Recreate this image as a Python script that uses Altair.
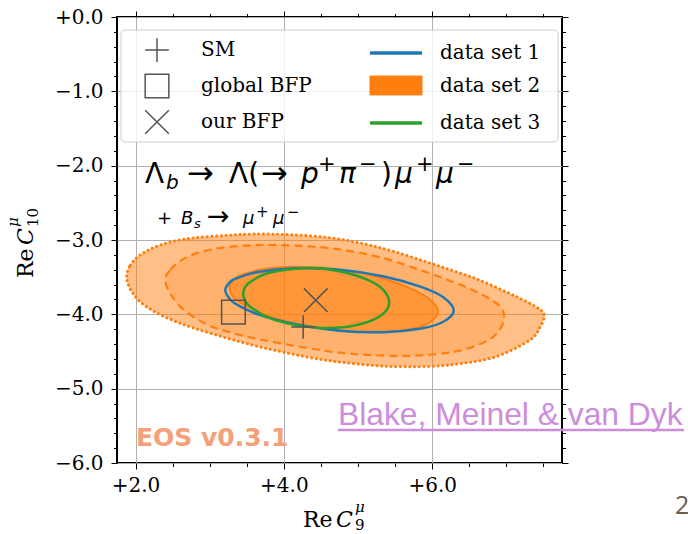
import altair as alt
import pandas as pd

# ---------------- data ----------------
# outer (dotted) contour of data set 2
outer_x = [1.88, 1.93, 2.05, 2.25, 2.50, 2.80, 3.20, 3.60, 4.10, 4.62, 5.07, 5.50, 5.97, 6.30, 6.64, 7.13, 7.40, 7.51,
           7.45, 7.31, 6.86, 6.40, 5.97, 5.40, 4.82, 4.40, 4.00, 3.60, 3.20, 2.80, 2.50, 2.25, 2.05, 1.93]
outer_y = [-3.50, -3.34, -3.21, -3.10, -3.02, -2.97, -2.94, -2.92, -2.93, -2.97, -3.05, -3.16, -3.31, -3.42, -3.54, -3.76, -3.90, -4.01,
           -4.18, -4.35, -4.57, -4.66, -4.70, -4.70, -4.65, -4.59, -4.51, -4.42, -4.31, -4.19, -4.08, -3.96, -3.82, -3.66]
# middle (dashed) contour of data set 2
dashed_x = [2.40, 2.47, 2.62, 2.85, 3.20, 3.60, 4.00, 4.62, 5.29, 5.97, 6.40, 6.72, 6.92, 6.97,
            6.90, 6.75, 6.41, 6.00, 5.52, 4.90, 4.42, 3.74, 3.30, 2.95, 2.65, 2.48]
dashed_y = [-3.54, -3.40, -3.27, -3.17, -3.10, -3.07, -3.07, -3.11, -3.23, -3.45, -3.61, -3.76, -3.90, -4.05,
            -4.22, -4.35, -4.48, -4.54, -4.56, -4.53, -4.47, -4.35, -4.25, -4.13, -3.94, -3.74]
# inner (solid) contour of data set 2
inner_x = [3.27, 3.33, 3.43, 3.73, 4.18, 4.68, 5.18, 5.63, 5.93, 6.08, 5.93, 5.63, 5.18, 4.68, 4.18, 3.73, 3.43, 3.32]
inner_y = [-3.64, -3.53, -3.47, -3.39, -3.36, -3.39, -3.47, -3.62, -3.77, -3.96, -4.13, -4.21, -4.24, -4.21, -4.13, -4.00, -3.85, -3.77]
# data set 1 contour
blue_x = [3.21, 3.27, 3.35, 3.65, 4.15, 4.75, 5.35, 5.85, 6.15, 6.29, 6.15, 5.85, 5.35, 4.75, 4.15, 3.65, 3.35, 3.26]
blue_y = [-3.67, -3.57, -3.52, -3.43, -3.38, -3.40, -3.49, -3.63, -3.77, -3.95, -4.10, -4.19, -4.24, -4.22, -4.13, -4.00, -3.86, -3.78]
# data set 3 contour
green_x = [3.45, 3.48, 3.54, 3.74, 4.04, 4.44, 4.84, 5.14, 5.34, 5.42, 5.34, 5.14, 4.84, 4.44, 4.04, 3.74, 3.54, 3.48]
green_y = [-3.72, -3.63, -3.57, -3.46, -3.40, -3.38, -3.44, -3.54, -3.67, -3.84, -3.99, -4.10, -4.17, -4.18, -4.12, -4.02, -3.89, -3.82]

# points
marker_labels = ["SM", "global BFP", "our BFP"]
marker_x = [4.26, 3.32, 4.43]
marker_y = [-4.17, -3.97, -3.81]

# legend entries (filled column by column, two columns)
legend_labels = ["SM", "global BFP", "our BFP", "data set 1", "data set 2", "data set 3"]

# ticks
x_ticks = [2.0, 2.5, 3.0, 3.5, 4.0, 4.5, 5.0, 5.5, 6.0, 6.5, 7.0, 7.5]
y_ticks = [-6.0, -5.8, -5.6, -5.4, -5.2, -5.0, -4.8, -4.6, -4.4, -4.2, -4.0,
           -3.8, -3.6, -3.4, -3.2, -3.0, -2.8, -2.6, -2.4, -2.2, -2.0,
           -1.8, -1.6, -1.4, -1.2, -1.0, -0.8, -0.6, -0.4, -0.2, 0.0]
X_DOMAIN = [1.75, 7.75]
Y_DOMAIN = [-6.0, 0.0]

# ---------------- helpers ----------------
def contour(xs, ys):
    return pd.DataFrame({"x": xs, "y": ys, "i": list(range(len(xs)))})

MAJOR_X = "abs(datum.value/2 - round(datum.value/2)) < 0.000001"
MAJOR_Y = "abs(datum.value - round(datum.value)) < 0.000001"


def label_expr(test):
    return ("(" + test + ") ? ((datum.value >= 0 ? '+' : '\u2212') + format(abs(datum.value), '.1f')) : ''")


def axis(orient, values, test, show):
    kw = dict(
        orient=orient, values=values, domain=False, title=None,
        tickColor="black", tickWidth=1,
        tickSize={"condition": {"test": test, "value": 6}, "value": 3.5},
    )
    if show:
        kw.update(
            labelExpr=label_expr(test), labelFont="DejaVu Serif", labelFontSize=20,
            labelColor="black", labelPadding=6 if orient == "bottom" else 8,
            labelOverlap=False, labelFlush=False,
            grid=True, gridColor="#b0b0b0", gridWidth=1,
            gridOpacity={"condition": {"test": test, "value": 1}, "value": 0},
        )
    else:
        kw.update(labels=False, grid=False)
    return alt.Axis(**kw)


xs = alt.Scale(domain=X_DOMAIN, nice=False, zero=False)
ys = alt.Scale(domain=Y_DOMAIN, nice=False, zero=False)


def cont_layer(xs_, ys_, first=False, **mark):
    return alt.Chart(contour(xs_, ys_)).mark_line(
        interpolate="cardinal-closed", **mark
    ).encode(
        x=alt.X("x:Q", scale=xs, axis=axis("bottom", x_ticks, MAJOR_X, True) if first else None),
        y=alt.Y("y:Q", scale=ys, axis=axis("left", y_ticks, MAJOR_Y, True) if first else None),
        order=alt.Order("i:Q"),
    )


outer = cont_layer(outer_x, outer_y, first=True, fill="#ff7f0e", fillOpacity=0.5,
                   stroke="#ff7f0e", strokeWidth=3, strokeDash=[0.1, 4.6], strokeCap="round")
dashed = cont_layer(dashed_x, dashed_y, fill="#ff7f0e", fillOpacity=0.2,
                    stroke="#ff7f0e", strokeWidth=2.2, strokeDash=[8, 5])
inner = cont_layer(inner_x, inner_y, fill="#ff7f0e", fillOpacity=0.55,
                   stroke="#ff7f0e", strokeWidth=2)
blue = cont_layer(blue_x, blue_y, stroke="#1f77b4", strokeWidth=2.5)
green = cont_layer(green_x, green_y, stroke="#2ca02c", strokeWidth=2.5)

# legend frame
frame = alt.Chart(pd.DataFrame({"k": [0]})).mark_rect(
    fill="white", fillOpacity=0.8, stroke="#cccccc", strokeWidth=1, cornerRadius=4
).encode(x=alt.value(4), x2=alt.value(441), y=alt.value(13), y2=alt.value(125))

legend = alt.Legend(
    orient="none", legendX=26, legendY=20, columns=2, columnPadding=50, rowPadding=6,
    labelFont="DejaVu Serif", labelFontSize=20, labelColor="black", labelOffset=30,
    symbolSize=560, title=None, padding=0, labelLimit=300,
)
shape_range = ["M-1,0H1M0,-1V1", "M-1,-1H1V1H-1Z", "M-1,-1L1,1M-1,1L1,-1",
               "M-2.2,0H2.2", "M-2.2,-0.8H2.2V0.8H-2.2Z", "M-2.2,0H2.2"]
stroke_range = ["#555555", "#555555", "#555555", "#1f77b4", "#ff7f0e", "#2ca02c"]
fill_range = ["transparent", "transparent", "transparent", "transparent", "#ff7f0e", "transparent"]
sw_range = [1.5, 1.5, 1.5, 3.5, 1, 3.5]

markers = alt.Chart(pd.DataFrame({"label": marker_labels, "x": marker_x, "y": marker_y})).mark_point(
    filled=False, size=560, opacity=1
).encode(
    x=alt.X("x:Q", scale=xs, axis=axis("top", x_ticks, MAJOR_X, False)),
    y=alt.Y("y:Q", scale=ys, axis=axis("right", y_ticks, MAJOR_Y, False)),
    shape=alt.Shape("label:N", scale=alt.Scale(domain=legend_labels, range=shape_range), legend=legend),
    stroke=alt.Stroke("label:N", scale=alt.Scale(domain=legend_labels, range=stroke_range), legend=legend),
    fill=alt.Fill("label:N", scale=alt.Scale(domain=legend_labels, range=fill_range), legend=legend),
    strokeWidth=alt.StrokeWidth("label:N", scale=alt.Scale(type="ordinal", domain=legend_labels, range=sw_range), legend=legend),
)

one = pd.DataFrame({"k": [0]})


def txt(s, x, y, size, font="DejaVu Sans", color="black", style="normal", weight="normal", angle=0):
    kw = dict(text=s, font=font, fontSize=size, color=color, fontStyle=style,
              fontWeight=weight, align="left", baseline="alphabetic")
    if angle:
        kw["angle"] = angle
    return alt.Chart(one).mark_text(**kw).encode(x=alt.value(x), y=alt.value(y))


MINUS = "\u2212"
texts = [
    # decay formula, first line
    txt("\u039b", 28, 166, 28),
    txt("b", 49, 172, 20, style="italic"),
    txt("\u2192", 70, 167, 32),
    txt("\u039b(", 112, 166, 28),
    txt("\u2192", 144, 167, 32),
    txt("p", 184, 166, 28, style="italic"),
    txt("+", 201, 154, 21),
    txt("\u03c0", 222, 166, 28, style="italic"),
    txt(MINUS, 242, 154, 21),
    txt(")", 264, 166, 28),
    txt("\u03bc", 278, 166, 28, style="italic"),
    txt("+", 299, 154, 21),
    txt("\u03bc", 319, 166, 28, style="italic"),
    txt(MINUS, 340, 154, 21),
    # second line
    txt("+", 40, 207, 18),
    txt("B", 64, 207, 18, style="italic"),
    txt("s", 77, 211, 13, style="italic"),
    txt("\u2192", 90, 208, 27),
    txt("\u03bc", 126, 207, 18, style="italic"),
    txt("+", 139, 200, 15),
    txt("\u03bc", 156, 207, 18, style="italic"),
    txt(MINUS, 170, 200, 15),
    # watermark
    txt("EOS v0.3.1", 19, 429, 25, font="DejaVu Sans", color="#f5a078", weight="bold"),
    # credit
    txt("Blake, Meinel & van Dyk", 221, 408, 31.8, font="Liberation Sans", color="#cc8ddb"),
    # page number
    txt("2", 558, 497, 25, font="Open Sans", color="#6b5d48"),
    # x-axis title
    txt("Re", 186, 510, 22, font="DejaVu Serif"),
    txt("C", 219, 510, 22, font="DejaVu Serif", style="italic"),
    txt("\u03bc", 238, 495, 15, font="DejaVu Serif", style="italic"),
    txt("9", 238, 513, 15, font="DejaVu Serif"),
    # y-axis title (rotated)
    txt("Re", -84, 261, 22, font="DejaVu Serif", angle=270),
    txt("C", -84, 228, 22, font="DejaVu Serif", style="italic", angle=270),
    txt("\u03bc", -99, 210, 15, font="DejaVu Serif", style="italic", angle=270),
    txt("10", -79, 210, 15, font="DejaVu Serif", angle=270),
]

underline = alt.Chart(one).mark_rule(color="#cc8ddb", strokeWidth=2.5).encode(
    x=alt.value(221), x2=alt.value(567), y=alt.value(413)
)

chart = alt.layer(
    outer, dashed, inner, blue, green, frame, markers, underline, *texts
).resolve_axis(
    x="independent", y="independent"
).properties(
    width=445, height=446,
    autosize=alt.AutoSizeParams(type="none"),
    padding={"left": 117, "top": 17, "right": 126, "bottom": 71},
    background="white",
).configure_view(
    stroke="black", strokeWidth=2
)

chart.save("out.html", embed_options={"renderer": "svg", "actions": False})
